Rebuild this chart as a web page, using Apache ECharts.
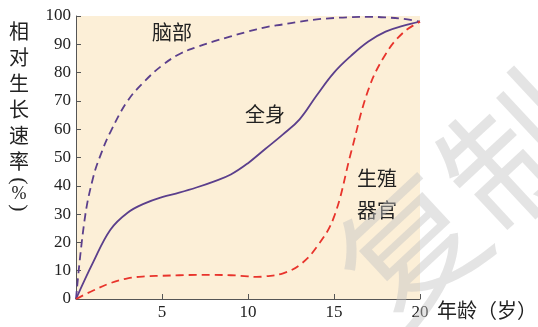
<!DOCTYPE html>
<html>
<head>
<meta charset="utf-8">
<script src="https://cdn.jsdelivr.net/npm/echarts@6/dist/echarts.min.js"></script>
<style>
  html, body { margin: 0; padding: 0; background: #fff; }
  #main { width: 538px; height: 327px; }
</style>
</head>
<body>
<div id="main"></div>
<script>
  // 年龄（岁）
  var brainX = [0, 0.5, 1, 1.5, 2, 3, 4, 5, 6, 7, 8, 9, 10, 11, 12, 13, 14, 15, 16, 17, 18, 19, 20];
  var brainY = [0, 28, 43, 52, 59, 70, 77, 82.5, 86.5, 89, 91, 92.8, 94.5, 96, 97, 98, 98.8, 99.3, 99.6, 99.7, 99.5, 99, 98];
  var bodyX = [0, 1, 2, 3, 4, 5, 6, 7, 8, 9, 10, 11, 12, 13, 14, 15, 16, 17, 18, 19, 20];
  var bodyY = [0, 13, 24.5, 30.5, 33.8, 36, 37.6, 39.4, 41.5, 44, 48, 53, 58, 63.5, 72, 80, 86, 91, 94.5, 96.5, 98];
  var reproX = [0, 1, 2, 3, 4, 5, 6, 7, 8, 9, 10, 10.5, 11, 12, 13, 14, 15, 16, 17, 18, 19, 20];
  var reproY = [0, 3, 5.6, 7.3, 8, 8.2, 8.4, 8.5, 8.5, 8.4, 8, 7.8, 8, 9, 12, 18.4, 29, 52, 74, 86.5, 94, 98];
  var yTicks = [0, 10, 20, 30, 40, 50, 60, 70, 80, 90, 100];

  function pairs(xs, ys) {
    var out = [];
    for (var i = 0; i < xs.length; i++) out.push([xs[i], ys[i]]);
    return out;
  }

  var chart = echarts.init(document.getElementById('main'));
  var serif = '"Liberation Serif", "DejaVu Serif", serif';
  var cjk = '"Noto Sans CJK SC", sans-serif';
  var purple = '#5b3f8c';
  var red = '#e8342c';

  var option = {
    animation: false,
    grid: { left: 76, right: 118, top: 16, bottom: 28, show: true, backgroundColor: '#fcefd7', borderWidth: 0 },
    xAxis: {
      type: 'value', min: 0, max: 20, interval: 5,
      axisLine: { lineStyle: { color: '#555', width: 1 } },
      axisTick: { inside: true, length: 5, lineStyle: { color: '#555' } },
      splitLine: { show: false },
      axisLabel: {
        color: '#222', fontFamily: serif, fontSize: 17, margin: 5,
        formatter: function (v) { return v === 0 ? '' : v; }
      }
    },
    yAxis: {
      type: 'value', min: 0, max: 100, interval: 10,
      axisLine: { show: true, lineStyle: { color: '#555', width: 1 } },
      axisTick: { show: true, inside: true, length: 5, lineStyle: { color: '#555' } },
      splitLine: { show: false },
      axisLabel: { color: '#222', fontFamily: serif, fontSize: 17, margin: 5,
        formatter: function (v) { return yTicks.indexOf(v) >= 0 ? v : ''; } }
    },
    series: [
      { name: '脑部', type: 'line', smooth: 0.4, showSymbol: false, data: pairs(brainX, brainY),
        lineStyle: { color: purple, width: 1.8, type: [8, 5] } },
      { name: '全身', type: 'line', smooth: 0.4, showSymbol: false, data: pairs(bodyX, bodyY),
        lineStyle: { color: purple, width: 1.8 } },
      { name: '生殖器官', type: 'line', smooth: 0.4, showSymbol: false, data: pairs(reproX, reproY),
        lineStyle: { color: red, width: 1.8, type: [8, 5] } }
    ],
    graphic: [
      { type: 'text', x: 19, y: 18, style: { text: '相\n对\n生\n长\n速\n率', font: '20px ' + cjk, fill: '#222', lineHeight: 26, align: 'center' } },
      { type: 'text', x: 19, y: 181, rotation: -Math.PI / 2, style: { text: '(', font: '22px ' + serif, fill: '#222', align: 'center', verticalAlign: 'middle' } },
      { type: 'text', x: 19, y: 194, style: { text: '%', font: '18px ' + serif, fill: '#222', align: 'center', verticalAlign: 'middle' } },
      { type: 'text', x: 19, y: 208, rotation: -Math.PI / 2, style: { text: ')', font: '22px ' + serif, fill: '#222', align: 'center', verticalAlign: 'middle' } },
      { type: 'text', left: 152, top: 22, style: { text: '脑部', font: '20px ' + cjk, fill: '#222' } },
      { type: 'text', left: 245, top: 104, style: { text: '全身', font: '20px ' + cjk, fill: '#222' } },
      { type: 'text', left: 357, top: 162, style: { text: '生殖\n器官', font: '20px ' + cjk, fill: '#222', lineHeight: 32 } },
      { type: 'text', left: 437, top: 300, style: { text: '年龄（岁）', font: '20px ' + cjk, fill: '#222' } },
      { type: 'text', x: 462, y: 200, rotation: 0.75, z: 100, silent: true,
        style: { text: '复制', font: '140px ' + cjk, fill: 'rgba(195,195,195,0.45)', align: 'center', verticalAlign: 'middle' } }
    ]
  };
  chart.setOption(option);
</script>
</body>
</html>
